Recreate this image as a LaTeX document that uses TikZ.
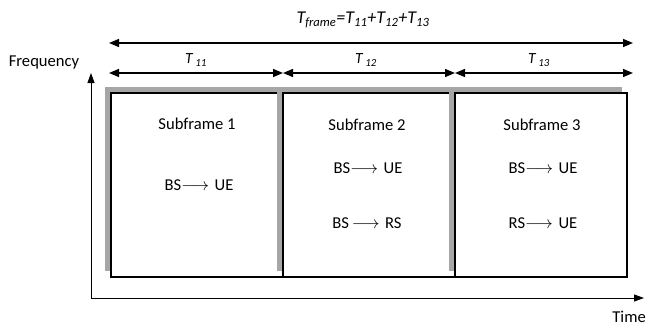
\documentclass[tikz,border=0pt]{standalone}
\usepackage{fontspec}
\setmainfont{Carlito}
\usetikzlibrary{arrows.meta}
\tikzset{
  shadowbox/.style={fill=black!35, draw=none},
  framebox/.style={fill=white, draw=black, line width=1.8pt},
  dimarrow/.style={line width=1.3pt, {Triangle[length=10pt,width=8pt]}-{Triangle[length=10pt,width=8pt]}},
  axisarrow/.style={line width=1pt, -{Triangle[length=10pt,width=7pt]}},
  lbl/.style={font=\fontsize{16.6}{18}\selectfont, inner sep=0pt},
  tlbl/.style={font=\fontsize{15.5}{17}\selectfont\itshape, inner sep=0pt},
  tflbl/.style={font=\fontsize{18}{20}\selectfont\itshape, inner sep=0pt},
}
\newcommand{\rarr}{$\longrightarrow$\,\,}
\begin{document}
\begin{tikzpicture}[x=1pt,y=-1pt]
\useasboundingbox (0,0) rectangle (649,327);
% axes
\coordinate (o) at (91,298);
\coordinate (ftop) at (91,73);
\coordinate (tend) at (644,298);
\draw[axisarrow] (o) -- (ftop);
\draw[axisarrow] (o) -- (tend);
\node[lbl, anchor=center] (freq) at (44,63) {Frequency};
\node[lbl, anchor=east] (time) at (646,317) {Time};
% subframes with shadows
\fill[shadowbox] (105,87) rectangle (277,271);
\draw[framebox] (111,93) rectangle (283,277);
\fill[shadowbox] (277,87) rectangle (449,271);
\draw[framebox] (283,93) rectangle (455,277);
\fill[shadowbox] (449,87) rectangle (622,271);
\draw[framebox] (455,93) rectangle (627,277);
% dimension coordinates
\coordinate (a0) at (109,43);
\coordinate (a3) at (633,43);
\coordinate (b0) at (109,73);
\coordinate (b1) at (283,73);
\coordinate (b2) at (455,73);
\coordinate (b3) at (633,73);
\draw[dimarrow] (a0) -- (a3);
\draw[dimarrow] (b0) -- (b1);
\draw[dimarrow] (b1) -- (b2);
\draw[dimarrow] (b2) -- (b3);
\node[tflbl] (tf) at (363,20) {T\textsubscript{frame}=T\textsubscript{11}+T\textsubscript{12}+T\textsubscript{13}};
\node[tlbl] (t11) at (196,60) {T\,\textsubscript{11}};
\node[tlbl] (t12) at (366,60) {T\,\textsubscript{12}};
\node[tlbl] (t13) at (539,60) {T\,\textsubscript{13}};
% texts
\node[lbl] (s1) at (197,124) {Subframe 1};
\node[lbl] (s1a) at (199,185) {BS\rarr UE};
\node[lbl] (s2) at (367,125) {Subframe 2};
\node[lbl] (s2a) at (368,168) {BS\rarr UE};
\node[lbl] (s2b) at (367,223) {BS\,\rarr RS};
\node[lbl] (s3) at (542,125) {Subframe 3};
\node[lbl] (s3a) at (543,168) {BS\rarr UE};
\node[lbl] (s3b) at (543,223) {RS\rarr UE};
\end{tikzpicture}
\end{document}
